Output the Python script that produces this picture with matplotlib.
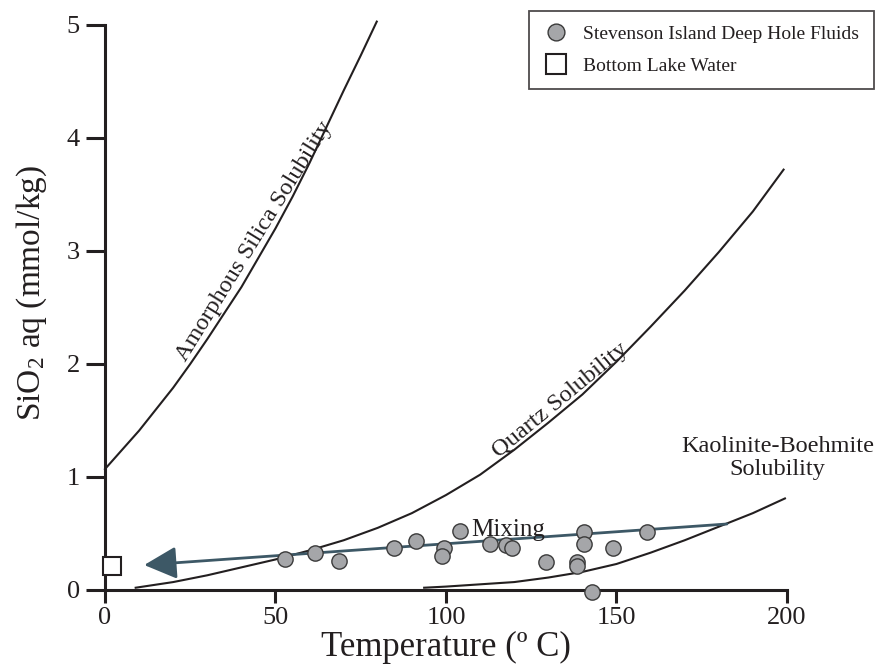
import matplotlib
matplotlib.use("Agg")
import matplotlib.pyplot as plt

plt.rcParams['font.family'] = ['Liberation Serif', 'DejaVu Serif']
plt.rcParams['mathtext.fontset'] = 'custom'
plt.rcParams['mathtext.rm'] = 'Liberation Serif'
plt.rcParams['mathtext.it'] = 'Liberation Serif:italic'

INK = '#231f20'
ARROW = '#3d5866'

# solubility curves (temperature degC, SiO2 mmol/kg)
amorph_t = [0, 5, 10, 15, 20, 25, 30, 35, 40, 45, 50, 55, 60, 65, 70, 75, 79.7]
amorph_si = [1.07, 1.24, 1.41, 1.60, 1.79, 2.00, 2.22, 2.45, 2.68, 2.94,
             3.20, 3.48, 3.78, 4.10, 4.42, 4.73, 5.03]

quartz_t = [9, 20, 30, 40, 50, 60, 70, 80, 90, 100, 110, 120, 130, 140,
            150, 160, 170, 180, 190, 199]
quartz_si = [0.02, 0.07, 0.13, 0.20, 0.27, 0.35, 0.44, 0.55, 0.68, 0.84,
             1.02, 1.24, 1.48, 1.73, 2.02, 2.33, 2.65, 2.99, 3.35, 3.72]

kaol_t = [93.6, 100, 110, 120, 130, 140, 150, 160, 170, 180, 190, 199.4]
kaol_si = [0.02, 0.03, 0.05, 0.07, 0.11, 0.16, 0.23, 0.33, 0.44, 0.56, 0.68, 0.81]

# Stevenson Island deep hole fluids
fluid_t = [52.8, 61.6, 68.6, 84.8, 91.1, 99.5, 98.7, 104.1, 112.9, 117.5,
           119.3, 129.3, 140.6, 140.6, 149.1, 158.9, 138.3, 138.5, 142.7]
fluid_si = [0.27, 0.33, 0.26, 0.37, 0.43, 0.37, 0.30, 0.52, 0.41, 0.40,
            0.37, 0.25, 0.51, 0.41, 0.37, 0.51, 0.25, 0.21, -0.02]

# bottom lake water
lake_t = [2.0]
lake_si = [0.21]

# mixing arrow (tail, head)
mix_from = (182.4, 0.584)
mix_to = (11.5, 0.221)

fig = plt.figure(figsize=(8.8, 6.68), dpi=100)
ax = fig.add_axes([0.1193, 0.1168, 0.7750, 0.8458])

ax.plot(amorph_t, amorph_si, color=INK, lw=1.5, clip_on=False)
ax.plot(quartz_t, quartz_si, color=INK, lw=1.5, clip_on=False)
ax.plot(kaol_t, kaol_si, color=INK, lw=1.5, clip_on=False)

ax.annotate('', xy=mix_to, xytext=mix_from,
            arrowprops=dict(arrowstyle='-|>,head_length=1.0,head_width=0.5',
                            color=ARROW, lw=2, shrinkA=0, shrinkB=0,
                            mutation_scale=20))

ax.plot(fluid_t, fluid_si, 'o', ms=11, mfc='#a5a6a9', mec='#3a3a3a', mew=1.0,
        clip_on=False, zorder=5, label='Stevenson Island Deep Hole Fluids')
ax.plot(lake_t, lake_si, 's', ms=13, mfc='white', mec=INK, mew=1.5,
        clip_on=False, zorder=5, label='Bottom Lake Water')

ax.text(45.1, 3.06, 'Amorphous Silica Solubility', rotation=58.2,
        rotation_mode='anchor', ha='center', va='baseline', fontsize=17.5, color=INK)
ax.text(134.5, 1.64, 'Quartz Solubility', rotation=39.5,
        rotation_mode='anchor', ha='center', va='baseline', fontsize=17.5, color=INK)
ax.text(197.2, 1.168, 'Kaolinite-Boehmite\nSolubility', ha='center', va='center',
        multialignment='center', linespacing=1.15, fontsize=17.5, color=INK)
ax.text(107.5, 0.478, 'Mixing', ha='left', va='baseline', fontsize=18, color=INK)

ax.set_xlim(0, 200)
ax.set_ylim(0, 5)
ax.set_xticks([0, 50, 100, 150, 200])
ax.set_yticks([0, 1, 2, 3, 4, 5])
for s in ['top', 'right']:
    ax.spines[s].set_visible(False)
for s in ['left', 'bottom']:
    ax.spines[s].set_linewidth(2.2)
    ax.spines[s].set_color(INK)
ax.tick_params(axis='x', length=9, width=2.2, color=INK, labelsize=19,
               labelcolor=INK, pad=3)
ax.tick_params(axis='y', length=14, width=2.2, color=INK, labelsize=19,
               labelcolor=INK, pad=4)

ax.set_xlabel('Temperature (º C)', fontsize=25, color=INK, labelpad=2)
ax.set_ylabel('SiO$_2$ aq (mmol/kg)', fontsize=24, color=INK)
ax.yaxis.set_label_coords(-0.082, 0.526)

leg = fig.legend(loc='upper right', bbox_to_anchor=(0.9932, 0.9835),
                 fontsize=14, frameon=True, fancybox=False, borderpad=0.75,
                 labelspacing=0.71, handletextpad=0.75, handlelength=1.3,
                 borderaxespad=0, markerscale=1.1)
leg.get_frame().set_edgecolor(INK)
leg.get_frame().set_linewidth(1.3)
for t in leg.get_texts():
    t.set_color(INK)

fig.savefig('out.png', dpi=100)
